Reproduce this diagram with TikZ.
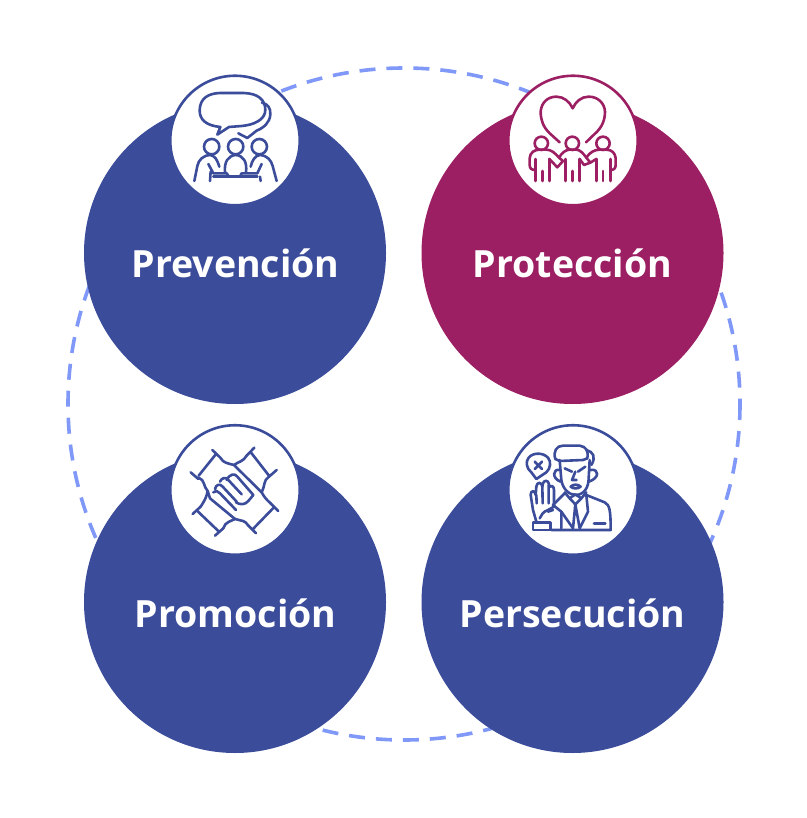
\documentclass[tikz,border=0pt]{standalone}
\usepackage{fontspec}
\setmainfont{Open Sans}
\definecolor{azul}{HTML}{3B4C9B}
\definecolor{vino}{HTML}{9C1F63}
\definecolor{guion}{HTML}{8098F8}
\tikzset{
  big/.style={circle,minimum size=302pt,inner sep=0pt,draw=none},
  small/.style={circle,minimum size=129.5pt,inner sep=0pt,fill=white,draw=#1,line width=2.6pt},
  title/.style={text=white,font=\fontsize{37.5}{40}\selectfont\bfseries,anchor=base,inner sep=0pt},
  icon/.style={line width=2.6pt,line cap=round,line join=round,draw=#1},
  ring/.style={draw=guion,line width=3.6pt,dash pattern=on 16pt off 11pt}
}
\begin{document}
\begin{tikzpicture}[x=1pt,y=-1pt]
\useasboundingbox[fill=white] (0,0) rectangle (806,818);
\coordinate (centre) at (404,404);
\draw[ring] (centre) circle[radius=336];
\node[big,fill=azul] (prev) at (235,253) {};
\node[big,fill=vino] (prot) at (572.5,253) {};
\node[big,fill=azul] (prom) at (235,602) {};
\node[big,fill=azul] (pers) at (572.5,602) {};
\node[small=azul] (iprev) at (235,140.5) {};
\node[small=vino] (iprot) at (573,140.5) {};
\node[small=azul] (iprom) at (235,490) {};
\node[small=azul] (ipers) at (573,490) {};
\node[title] (tprev) at (235.5,277) {Prevención};
\node[title] (tprot) at (572.5,277) {Protección};
\node[title] (tprom) at (235.5,627) {Promoción};
\node[title] (tpers) at (572.5,627) {Persecución};
% Icon: meeting
\begin{scope}[shift={(160,65)},x=0.3333pt,y=-0.3333pt,icon=azul]
\draw (172,209) -- (181,186) .. controls (140,182) and (118,165) .. (119,135) .. controls (120,100) and (145,85) .. (180,84) -- (250,84) .. controls (295,85) and (316,105) .. (316,135) .. controls (316,165) and (280,180) .. (245,183) -- (207,186) -- cycle;
\draw (306,113) .. controls (325,118) and (332,130) .. (331,148) .. controls (330,172) and (312,188) .. (290,197) -- (262,219) -- (235,205);
\draw (155,245) circle[radius=23] (227,245) circle[radius=23] (298,245) circle[radius=23];
\draw (103,348) -- (112,303) .. controls (116,285) and (128,272) .. (150,270) .. controls (165,272) and (172,285) .. (178,305);
\draw (350,348) -- (338,303) .. controls (333,285) and (322,272) .. (300,270) .. controls (285,272) and (277,285) .. (272,305);
\draw (195,322) .. controls (192,290) and (205,272) .. (227,270) .. controls (250,272) and (262,290) .. (258,322);
\draw (145,297) -- (160,325) -- (200,325) -- (207,335);
\draw (305,297) -- (292,325) -- (245,325) -- (240,335);
\draw (160,335) -- (292,335);
\draw (150,348) -- (152,320) (302,348) -- (300,335);
\end{scope}
% Icon: family and heart
\begin{scope}[shift={(498,65)},x=0.3333pt,y=-0.3333pt,icon=vino]
\draw (185,232) -- (155,205) .. controls (135,185) and (128,165) .. (128,140) .. controls (130,112) and (150,95) .. (175,95) .. controls (197,95) and (215,110) .. (224,130) .. controls (233,110) and (250,95) .. (272,95) .. controls (300,95) and (320,115) .. (321,140) .. controls (321,165) and (312,187) .. (292,205) -- (264,232);
\draw (130,235) circle[radius=20] (223,235) circle[radius=20] (315,235) circle[radius=20];
\draw (112,282) -- (112,348) (154,282) -- (154,348);
\draw (133,318) -- (133,348) (224,318) -- (224,348) (315,318) -- (315,348);
\draw (203,282) -- (203,348) (245,282) -- (245,348) (295,282) -- (295,348) (337,282) -- (337,348);
\draw (112,315) .. controls (100,315) and (95,310) .. (95,300) -- (95,280) .. controls (96,262) and (110,254) .. (125,254) -- (145,254) .. controls (160,254) and (172,265) .. (183,278) -- (195,288) -- (178,307) -- (154,282);
\draw (183,278) .. controls (192,262) and (205,254) .. (215,254) -- (235,254) .. controls (245,254) and (256,265) .. (265,278) -- (277,293) -- (295,282);
\draw (265,278) .. controls (275,262) and (290,254) .. (305,254) -- (325,254) .. controls (342,254) and (352,265) .. (353,280) -- (353,300) .. controls (353,310) and (348,315) .. (337,315);
\draw (245,282) -- (258,300) -- (277,293);
\end{scope}
% Icon: joined hands
\begin{scope}[shift={(160,415)},x=0.3333pt,y=-0.3333pt,icon=azul]
\draw (157,105) -- (181,128) (169,116) -- (116,182) (92,172) -- (115,192);
\draw (283,98) -- (260,122) (271,110) -- (327,182) (326,186) -- (350,165);
\draw (98,297) -- (122,275) (110,286) -- (177,350) (165,362) -- (190,340);
\draw (288,355) -- (265,332) (277,344) -- (343,276) (332,265) -- (355,288);
\draw (116,188) .. controls (135,195) and (130,215) .. (143,228) .. controls (140,245) and (135,255) .. (122,275);
\draw (181,128) .. controls (190,145) and (205,145) .. (222,150) -- (305,232) .. controls (312,245) and (320,255) .. (332,265);
\draw (326,186) .. controls (310,195) and (315,215) .. (305,232);
\draw (190,340) .. controls (195,320) and (215,318) .. (225,312) .. controls (245,318) and (255,315) .. (265,332);
\draw (222,150) .. controls (235,140) and (250,140) .. (260,122);
\draw (143,228) -- (150,250) -- (225,312);
\draw (200,195) .. controls (210,175) and (225,175) .. (232,185) -- (280,240) -- (265,258) .. controls (255,270) and (240,270) .. (228,262);
\draw (180,200) .. controls (185,188) and (198,185) .. (205,195) -- (245,238) (165,222) .. controls (168,208) and (180,205) .. (188,215) -- (230,260) (160,232) .. controls (165,225) and (175,228) .. (180,235) -- (228,285);
\end{scope}
% Icon: person with stop hand
\begin{scope}[shift={(498,415)},x=0.3333pt,y=-0.3333pt,icon=azul]
\draw (115,192) -- (100,172) .. controls (85,160) and (82,140) .. (92,128) .. controls (105,112) and (135,112) .. (150,128) .. controls (160,140) and (158,160) .. (145,172) -- (115,192);
\draw (110,140) -- (132,162) (132,140) -- (110,162);
\draw (185,138) -- (172,132) .. controls (165,110) and (175,92) .. (195,92) -- (245,92) .. controls (265,95) and (272,108) .. (268,130) -- (255,135) -- (185,138);
\draw (265,105) .. controls (285,110) and (295,125) .. (280,150);
\draw (185,135) -- (190,195) .. controls (195,225) and (215,240) .. (235,240) .. controls (260,238) and (272,215) .. (272,190) -- (275,135);
\draw (185,165) .. controls (165,160) and (160,190) .. (188,200) (277,165) .. controls (305,160) and (305,190) .. (272,200);
\draw (200,160) -- (222,170) (262,155) -- (240,170);
\draw (232,170) -- (222,195) -- (236,195);
\draw (218,215) .. controls (225,207) and (240,207) .. (248,215) .. controls (240,222) and (225,222) .. (218,215) -- cycle;
\draw (200,232) -- (215,250) -- (232,238) -- (250,250) -- (265,232);
\draw (200,235) -- (165,270) -- (190,290) (190,290) -- (225,340) -- (232,268) -- (245,340) -- (270,290) -- (265,240) (232,268) -- (215,250) (232,268) -- (250,250);
\draw (265,240) -- (320,262) .. controls (335,270) and (338,285) .. (338,345) -- (160,345);
\draw (288,325) -- (322,325);
\draw (150,290) -- (165,285) (190,340) -- (190,290);
\draw (115,320) -- (105,285) -- (98,240) .. controls (97,225) and (112,225) .. (113,240) -- (115,215) .. controls (116,200) and (132,200) .. (133,215) -- (135,205) .. controls (138,195) and (150,195) .. (152,205) -- (155,215) .. controls (158,210) and (168,212) .. (168,225) -- (168,275) -- (150,285) .. controls (135,290) and (130,300) .. (125,310);
\draw (115,240) -- (116,265) (133,215) -- (134,265) (152,210) -- (152,265);
\draw (105,322) -- (158,322) -- (158,345) -- (105,345) -- cycle;
\end{scope}
\end{tikzpicture}
\end{document}
